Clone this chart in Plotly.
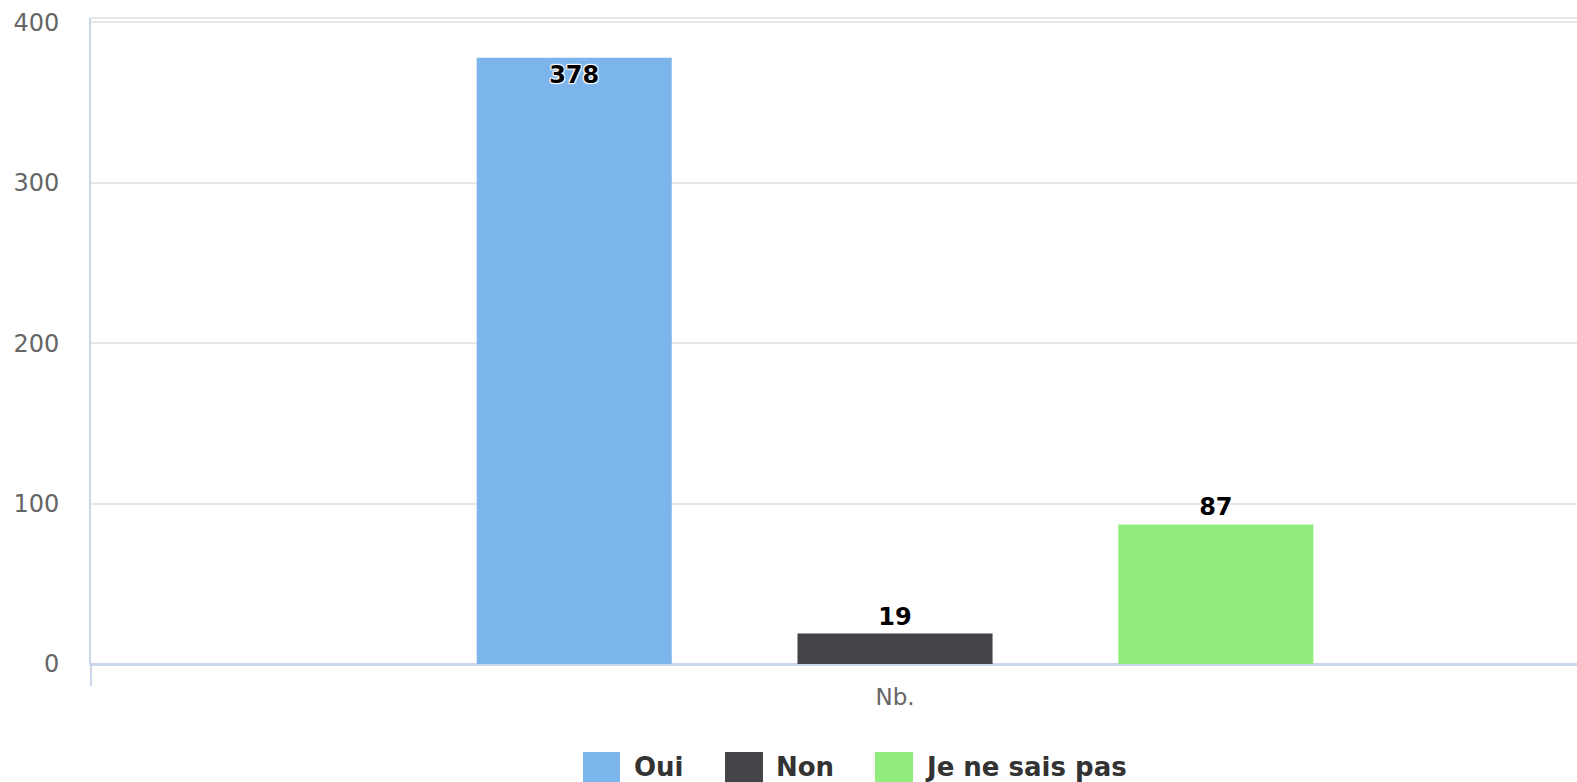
import plotly.graph_objects as go

# ---- data ----
categories = ["Nb."]
series_names = ["Oui", "Non", "Je ne sais pas"]
series_values = [378, 19, 87]
y_tick_values = [0, 100, 200, 300, 400]

# ---- style ----
colors = ["#7cb5ec", "#434348", "#90ed7d"]
FONT = "DejaVu Sans"
W, H = 1577, 782
M_L, M_R, M_T, M_B = 91, 0, 17.5, 118
X_RANGE = [-0.5, 0.4241]
Y_RANGE = [0, 402.8]

fig = go.Figure()
for name, val, col in zip(series_names, series_values, colors):
    inside = val > 300
    fig.add_trace(go.Bar(
        name=name,
        x=categories,
        y=[val],
        marker=dict(color=col, line=dict(width=0)),
        text=[str(val)],
        textposition="inside" if inside else "outside",
        insidetextanchor="end",
        textangle=0,
        cliponaxis=False,
        textfont=dict(family=FONT, size=24, color="#000000", weight="bold",
                      shadow="1px 1px 1px #fff, -1px -1px 1px #fff, 1px -1px 1px #fff, -1px 1px 1px #fff"),
        showlegend=False,
    ))

# manual legend (pixel -> paper helpers)
pw = W - M_L - M_R
ph = H - M_T - M_B


def px(xp):
    return (xp - M_L) / pw


def py(yp):
    return (H - M_B - yp) / ph


legend_items = [
    (583, 620, 631.5),
    (725, 763, 774),
    (875, 913, 923),
]
shapes = []
annotations = []
for (x0, x1, tx), name, col in zip(legend_items, series_names, colors):
    shapes.append(dict(type="rect", xref="paper", yref="paper",
                       x0=px(x0), x1=px(x1), y0=py(786), y1=py(752),
                       fillcolor=col, line=dict(width=0)))
    annotations.append(dict(xref="paper", yref="paper", x=px(tx), y=py(767),
                            xanchor="left", yanchor="middle", showarrow=False,
                            text="<b>" + name + "</b>",
                            font=dict(family=FONT, size=26, color="#333333")))

# top border line
shapes.append(dict(type="line", xref="paper", yref="paper", x0=0, x1=1, y0=1, y1=1,
                   line=dict(color="#e6e6e6", width=2)))

fig.update_layout(
    width=W, height=H,
    margin=dict(l=M_L, r=M_R, t=M_T, b=M_B, pad=0),
    paper_bgcolor="white", plot_bgcolor="white",
    barmode="group", bargap=0.4015, bargroupgap=0.392,
    font=dict(family=FONT),
    shapes=shapes, annotations=annotations,
    showlegend=False,
    xaxis=dict(
        type="category", range=X_RANGE,
        showline=True, linecolor="#ccd6eb", linewidth=2,
        showgrid=False, zeroline=False,
        ticks="outside", tickson="boundaries", ticklen=20, tickwidth=2, tickcolor="#ccd6eb",
        ticklabelstandoff=11,
        tickfont=dict(family=FONT, size=23, color="#666666"),
    ),
    yaxis=dict(
        range=Y_RANGE, tickvals=y_tick_values,
        showline=True, linecolor="#ccd6eb", linewidth=2,
        showgrid=True, gridcolor="#e6e6e6", gridwidth=2,
        zeroline=True, zerolinecolor="#ccd6eb", zerolinewidth=2,
        ticks="", ticklabelstandoff=25,
        tickfont=dict(family=FONT, size=24, color="#666666"),
    ),
)

fig.write_html("out.html", config={"displayModeBar": False},
               post_script="document.body.style.margin='0';document.body.style.overflow='hidden';")
